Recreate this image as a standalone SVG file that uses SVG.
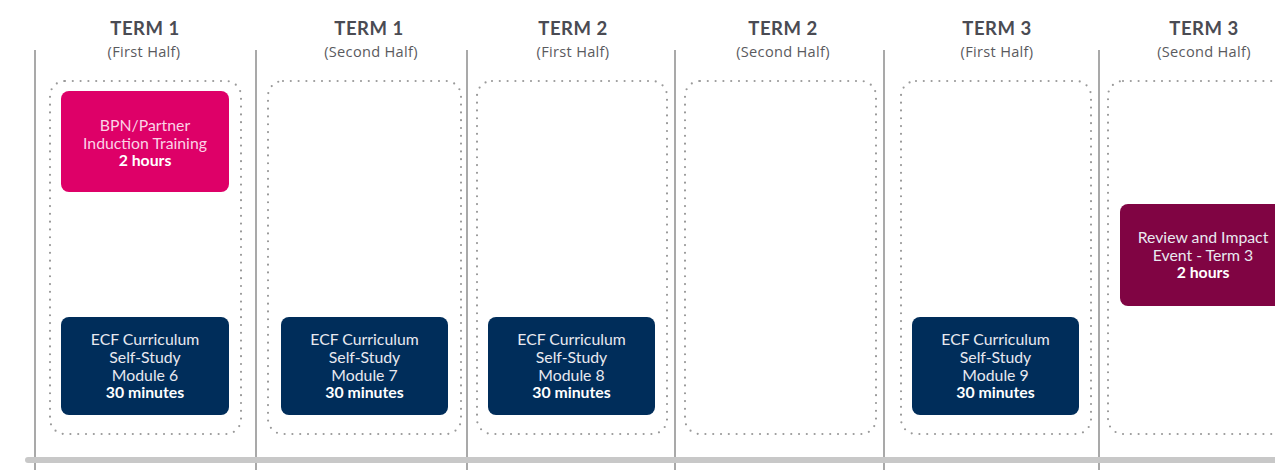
<svg xmlns="http://www.w3.org/2000/svg" width="1275" height="470" viewBox="0 0 1275 470">
<style>
.bg{fill:#ffffff}
.vline{stroke:#8c8c8c;stroke-width:1.5}
.bar{stroke:#c8c8c8;stroke-width:6;stroke-linecap:round}
.dot{fill:none;stroke:#9a9a9a;stroke-width:2.2;stroke-linecap:round;stroke-dasharray:0 7.8}
.hd{font-family:Lato,"Open Sans","Liberation Sans",sans-serif;font-weight:bold;font-size:18.5px;letter-spacing:0.5px;fill:#4a4b53;text-anchor:middle}
.sub{font-family:"Open Sans",Lato,"Liberation Sans",sans-serif;font-size:14.6px;letter-spacing:0.3px;fill:#5a5a5e;text-anchor:middle}
.pink{fill:#de0068}
.navy{fill:#002d5a}
.maroon{fill:#800443}
.t{font-family:Lato,"Liberation Sans",sans-serif;font-size:15.8px;fill:#e9e9f0;text-anchor:middle}
.tp{font-family:Lato,"Liberation Sans",sans-serif;font-size:15.8px;fill:#fbd3e6;text-anchor:middle}
.b{font-weight:bold;fill:#ffffff}
</style>
<rect class="bg" x="0" y="0" width="1275" height="470"/>
<g id="grid">
<line class="vline" x1="35" y1="50" x2="35" y2="470"/>
<line class="vline" x1="256" y1="50" x2="256" y2="470"/>
<line class="vline" x1="467" y1="50" x2="467" y2="470"/>
<line class="vline" x1="675" y1="50" x2="675" y2="470"/>
<line class="vline" x1="884" y1="50" x2="884" y2="470"/>
<line class="vline" x1="1099" y1="50" x2="1099" y2="470"/>
<line class="bar" x1="28" y1="460" x2="1280" y2="460"/>
</g>
<g id="headers">
<text class="hd" x="145" y="35">TERM 1</text><text class="sub" x="144" y="57">(First Half)</text>
<text class="hd" x="369" y="35">TERM 1</text><text class="sub" x="371" y="57">(Second Half)</text>
<text class="hd" x="573" y="35">TERM 2</text><text class="sub" x="573" y="57">(First Half)</text>
<text class="hd" x="783" y="35">TERM 2</text><text class="sub" x="783" y="57">(Second Half)</text>
<text class="hd" x="997" y="35">TERM 3</text><text class="sub" x="997" y="57">(First Half)</text>
<text class="hd" x="1204" y="35">TERM 3</text><text class="sub" x="1204" y="57">(Second Half)</text>
</g>
<g id="periods">
<rect class="dot" x="50" y="81" width="191" height="353" rx="15"/>
<rect class="dot" x="268" y="81" width="193" height="353" rx="15"/>
<rect class="dot" x="477" y="81" width="190" height="353" rx="15"/>
<rect class="dot" x="685" y="81" width="191" height="353" rx="15"/>
<rect class="dot" x="901" y="81" width="190" height="353" rx="15"/>
<rect class="dot" x="1108" y="81" width="200" height="353" rx="15"/>
</g>
<g id="node-induction">
<rect class="pink" x="61" y="91" width="168" height="101" rx="8"/>
<text class="tp" x="145" y="131">BPN/Partner</text>
<text class="tp" x="145" y="148.5">Induction Training</text>
<text class="tp b" x="145" y="166">2 hours</text>
</g>
<g id="node-module6">
<rect class="navy" x="61" y="317" width="168" height="98" rx="8"/>
<text class="t" x="145" y="345">ECF Curriculum</text>
<text class="t" x="145" y="363">Self-Study</text>
<text class="t" x="145" y="380.5">Module 6</text>
<text class="t b" x="145" y="398">30 minutes</text>
</g>
<g id="node-module7">
<rect class="navy" x="281" y="317" width="167" height="98" rx="8"/>
<text class="t" x="364.5" y="345">ECF Curriculum</text>
<text class="t" x="364.5" y="363">Self-Study</text>
<text class="t" x="364.5" y="380.5">Module 7</text>
<text class="t b" x="364.5" y="398">30 minutes</text>
</g>
<g id="node-module8">
<rect class="navy" x="488" y="317" width="167" height="98" rx="8"/>
<text class="t" x="571.5" y="345">ECF Curriculum</text>
<text class="t" x="571.5" y="363">Self-Study</text>
<text class="t" x="571.5" y="380.5">Module 8</text>
<text class="t b" x="571.5" y="398">30 minutes</text>
</g>
<g id="node-module9">
<rect class="navy" x="912" y="317" width="167" height="98" rx="8"/>
<text class="t" x="995.5" y="345">ECF Curriculum</text>
<text class="t" x="995.5" y="363">Self-Study</text>
<text class="t" x="995.5" y="380.5">Module 9</text>
<text class="t b" x="995.5" y="398">30 minutes</text>
</g>
<g id="node-review">
<rect class="maroon" x="1120" y="204" width="175" height="102" rx="8"/>
<text class="t" x="1203" y="243">Review and Impact</text>
<text class="t" x="1203" y="261">Event - Term 3</text>
<text class="t b" x="1203" y="278">2 hours</text>
</g>
<g id="connectors"></g>
</svg>
